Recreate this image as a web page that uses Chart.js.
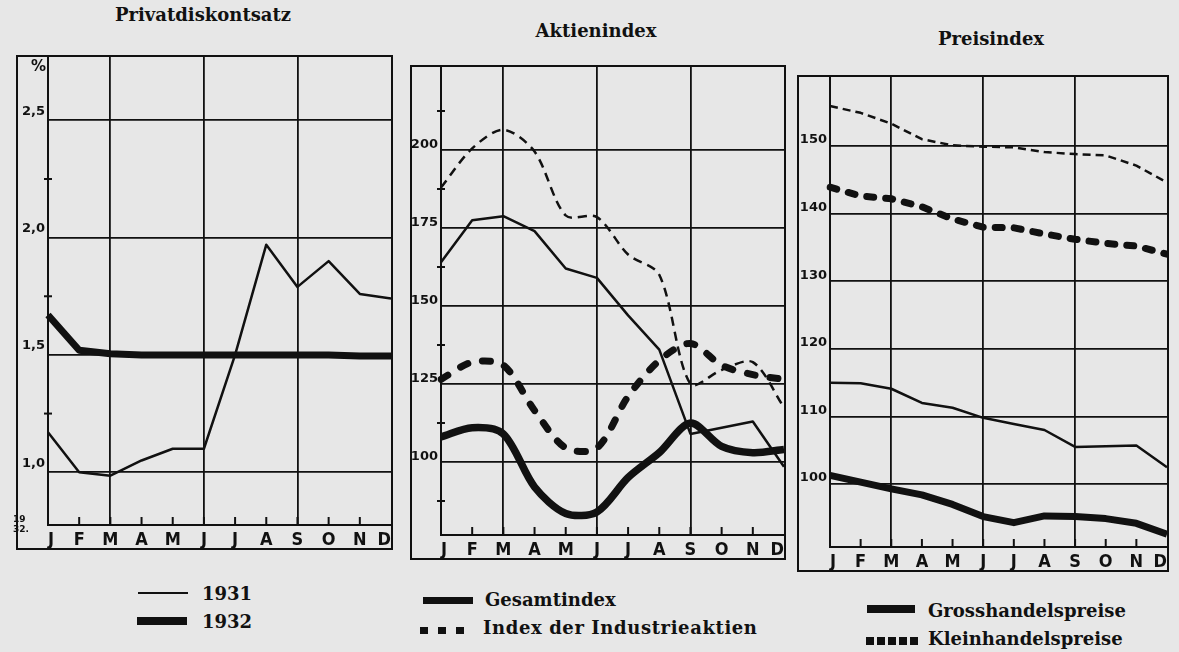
<!DOCTYPE html>
<html>
<head>
<meta charset="utf-8">
<script src="https://cdn.jsdelivr.net/npm/chart.js@4.4.0/dist/chart.umd.min.js"></script>
<style>
  body { margin: 0; background: #e7e7e7; width: 1179px; height: 652px; position: relative; overflow: hidden; color: #111; }
  .title, .lg { position: absolute; font-family: 'DejaVu Serif', serif; font-weight: bold; font-size: 18px; line-height: 20px; white-space: nowrap; }
  .title { text-align: center; width: 240px; }
  .frame { position: absolute; border: 2px solid #111; box-sizing: border-box; }
  .frame canvas { position: absolute; left: 0; top: 0; }
  .mk { position: absolute; background: #111; }
  .dots { position: absolute; background: repeating-linear-gradient(to right, #111 0 8px, transparent 8px 18px); }
  .dots2 { position: absolute; background: repeating-linear-gradient(to right, #111 0 8px, transparent 8px 11px); }
  .small { position: absolute; font-family: 'DejaVu Sans', sans-serif; font-weight: bold; }
</style>
</head>
<body>
<div class="title" style="left:83px; top:5px;">Privatdiskontsatz</div>
<div class="title" style="left:476px; top:21px;">Aktienindex</div>
<div class="title" style="left:871px; top:29px;">Preisindex</div>

<div class="frame" style="left:16px; top:55px; width:377px; height:495px;"><canvas id="c1" width="373" height="491"></canvas></div>
<div class="frame" style="left:410px; top:65px; width:376px; height:495px;"><canvas id="c2" width="372" height="491"></canvas></div>
<div class="frame" style="left:797px; top:75px; width:372px; height:497px;"><canvas id="c3" width="368" height="493"></canvas></div>

<div class="small" style="left:31px; top:57px; font-size:15px;">%</div>
<div class="small" style="left:13px; top:514px; font-size:9px; line-height:10px;">19<br>32.</div>

<div class="mk" style="left:138px; top:592px; width:50px; height:2px;"></div>
<div class="lg" style="left:202px; top:584px;">1931</div>
<div class="mk" style="left:137px; top:617px; width:50px; height:8px;"></div>
<div class="lg" style="left:202px; top:612px;">1932</div>

<div class="mk" style="left:423px; top:597px; width:50px; height:7px;"></div>
<div class="lg" style="left:485px; top:590px;">Gesamtindex</div>
<div class="dots" style="left:420px; top:627px; width:53px; height:7px;"></div>
<div class="lg" style="left:483px; top:618px; letter-spacing:0.6px;">Index der Industrieaktien</div>

<div class="mk" style="left:867px; top:605px; width:48px; height:8px;"></div>
<div class="lg" style="left:928px; top:601px;">Grosshandelspreise</div>
<div class="dots2" style="left:866px; top:637px; width:52px; height:8px;"></div>
<div class="lg" style="left:928px; top:629px;">Kleinhandelspreise</div>

<script>
const months = ['J', 'F', 'M', 'A', 'M', 'J', 'J', 'A', 'S', 'O', 'N', 'D'];

// Privatdiskontsatz in %
const diskont1931 = [1.17, 1.0, 0.985, 1.05, 1.1, 1.1, 1.5, 1.97, 1.79, 1.9, 1.76, 1.74];
const diskont1932 = [1.67, 1.52, 1.505, 1.5, 1.5, 1.5, 1.5, 1.5, 1.5, 1.5, 1.495, 1.495];
const diskontTicks = [1.0, 1.5, 2.0, 2.5];
const diskontMinor = [1.25, 1.75, 2.25];

// Aktienindex
const gesamt1931 = [164, 177.5, 178.8, 174, 162, 159, 147, 136, 109, 111, 113, 98.5];
const gesamt1932 = [108, 111, 109, 92, 83.5, 84, 95, 103, 112.5, 105, 103, 104];
const industrie1931 = [188, 200.5, 206.5, 199.5, 179, 178.5, 166.5, 160, 125, 129.5, 132, 117.5];
const industrie1932 = [126.5, 132, 131, 116.5, 104.5, 104.5, 121, 132.5, 138, 131, 128, 126.5];
const aktienTicks = [100, 125, 150, 175, 200];
const aktienMinor = [87.5, 112.5, 137.5, 162.5, 187.5, 212.5];

// Preisindex
const gross1931 = [115, 114.9, 114.1, 112, 111.3, 109.8, 108.9, 108, 105.5, 105.6, 105.7, 102.5];
const gross1932 = [101.3, 100.3, 99.3, 98.4, 97, 95.2, 94.3, 95.3, 95.2, 94.9, 94.2, 92.6];
const klein1931 = [155.9, 154.9, 153.3, 151, 150.1, 149.9, 149.8, 149.1, 148.8, 148.6, 147.1, 144.6];
const klein1932 = [143.9, 142.6, 142.2, 141, 139.2, 138, 137.9, 137, 136.2, 135.6, 135.2, 134];
const preisTicks = [100, 110, 120, 130, 140, 150];

const INK = '#111';

// little month ticks on the x axis and minor ticks across the y axis
const axisMarks = {
  id: 'axisMarks',
  afterDatasetsDraw(chart, args, opts) {
    const { ctx, chartArea } = chart;
    const x = chart.scales.x, y = chart.scales.y;
    ctx.save();
    ctx.strokeStyle = INK;
    ctx.lineWidth = 2;
    for (let i = 1; i < x.ticks.length - 1; i++) {
      const px = x.getPixelForTick(i);
      ctx.beginPath();
      ctx.moveTo(px, chartArea.bottom);
      ctx.lineTo(px, chartArea.bottom - 8);
      ctx.stroke();
    }
    (opts.minor || []).forEach(v => {
      const py = y.getPixelForValue(v);
      ctx.beginPath();
      ctx.moveTo(chartArea.left - 4, py);
      ctx.lineTo(chartArea.left + 4, py);
      ctx.stroke();
    });
    ctx.restore();
  }
};

function thin(data, extra) {
  return Object.assign({ data: data, borderColor: INK, borderWidth: 2.5, tension: 0 }, extra || {});
}
function thick(data, extra) {
  return Object.assign({ data: data, borderColor: INK, borderWidth: 7, tension: 0 }, extra || {});
}

function makePanel(id, cfg) {
  return new Chart(document.getElementById(id), {
    type: 'line',
    data: { labels: months, datasets: cfg.datasets },
    options: {
      responsive: false,
      animation: false,
      layout: { padding: 0 },
      elements: { point: { radius: 0 }, line: { borderJoinStyle: 'round' } },
      plugins: { legend: { display: false }, tooltip: { enabled: false }, axisMarks: { minor: cfg.minor } },
      scales: {
        x: {
          offset: false,
          grid: { color: c => [2, 5, 8].includes(c.index) ? INK : 'transparent', lineWidth: 1.8, drawTicks: false },
          border: { color: INK, width: 2 },
          ticks: {
            color: INK, padding: 5, align: 'inner', maxRotation: 0, autoSkip: false,
            font: { family: "'Liberation Sans Narrow', 'DejaVu Sans Condensed', sans-serif", size: 18, weight: 'bold' }
          },
          afterFit: s => { s.height = cfg.xh; s.paddingLeft = 0; s.paddingRight = 0; }
        },
        y: {
          min: cfg.min,
          max: cfg.max,
          afterBuildTicks: s => { s.ticks = cfg.ticks.map(v => ({ value: v })); },
          grid: { color: INK, lineWidth: 1.8, drawTicks: false },
          border: { color: INK, width: 2 },
          ticks: {
            color: INK, padding: 3, labelOffset: cfg.labelOffset, callback: cfg.fmt,
            font: { family: "'DejaVu Sans', sans-serif", size: 13, weight: 'bold' }
          },
          afterFit: s => { s.width = cfg.yw; s.paddingTop = 0; s.paddingBottom = 0; }
        }
      }
    },
    plugins: [axisMarks]
  });
}

makePanel('c1', {
  min: 0.775, max: 2.77, ticks: diskontTicks, minor: diskontMinor,
  yw: 30, xh: 23, labelOffset: -9,
  fmt: v => v.toFixed(1).replace('.', ','),
  datasets: [thin(diskont1931), thick(diskont1932)]
});

makePanel('c2', {
  min: 76.6, max: 226.6, ticks: aktienTicks, minor: aktienMinor,
  yw: 29, xh: 23, labelOffset: -5,
  fmt: v => v,
  datasets: [
    thin(gesamt1931),
    thick(gesamt1932, { borderWidth: 7.5, tension: 0.3 }),
    thin(industrie1931, { borderDash: [9, 6], tension: 0.3 }),
    thick(industrie1932, { borderDash: [8, 15], borderCapStyle: 'round', tension: 0.3 })
  ]
});

makePanel('c3', {
  min: 90.7, max: 160.2, ticks: preisTicks, minor: [],
  yw: 31, xh: 23, labelOffset: -6,
  fmt: v => v,
  datasets: [
    thin(gross1931),
    thick(gross1932),
    thin(klein1931, { borderDash: [8, 5] }),
    thick(klein1932, { borderDash: [7, 12], borderCapStyle: 'round' })
  ]
});
</script>
</body>
</html>
